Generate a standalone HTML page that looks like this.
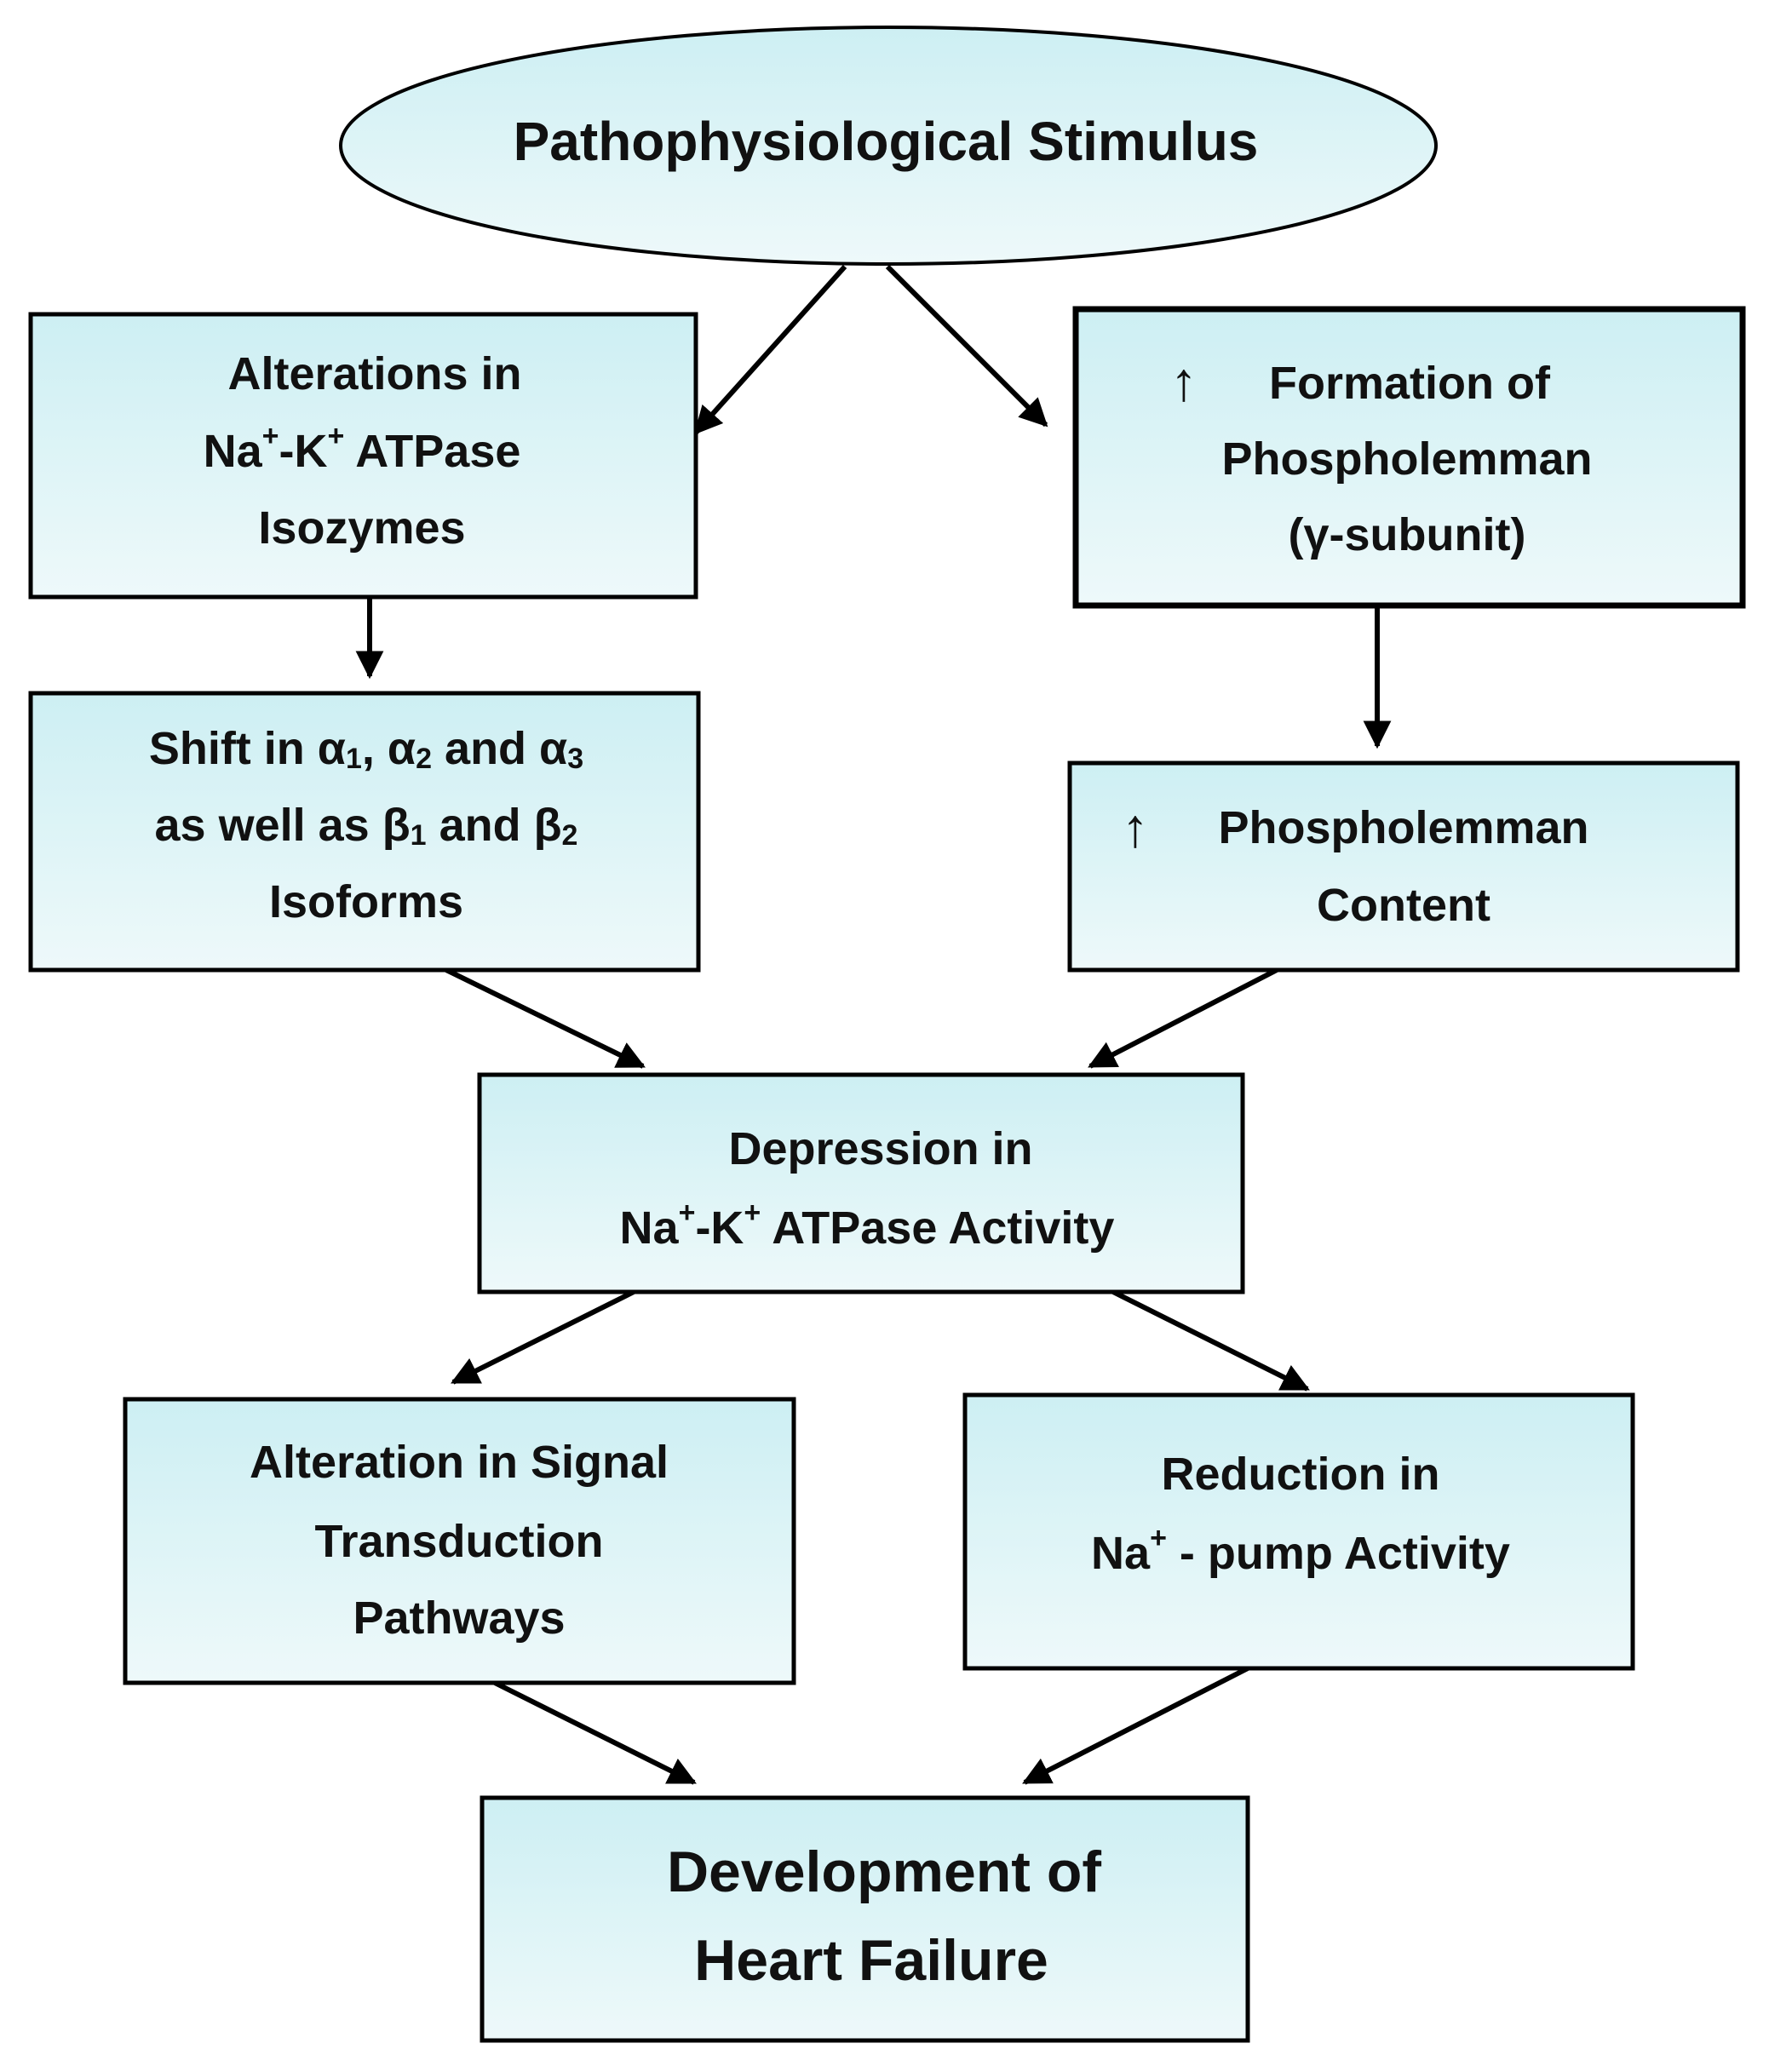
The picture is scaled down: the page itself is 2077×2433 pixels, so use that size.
<!DOCTYPE html>
<html><head><meta charset="utf-8"><style>
html,body{margin:0;padding:0;background:#fff}
svg{display:block}
text{font-family:"Liberation Sans",sans-serif;font-weight:bold;fill:#111;text-anchor:middle;dominant-baseline:central}
</style></head><body>
<svg width="2077" height="2433" viewBox="0 0 2077 2433" xmlns="http://www.w3.org/2000/svg">
<defs>
<linearGradient id="g" x1="0" y1="0" x2="0" y2="1"><stop offset="0" stop-color="#cdeff3"/><stop offset="1" stop-color="#eef9fa"/></linearGradient>
<marker id="a" viewBox="0 0 10 10" refX="9" refY="5" markerWidth="5.5" markerHeight="5.5" orient="auto" markerUnits="strokeWidth"><path d="M0,0L10,5L0,10z" fill="#000"/></marker>
</defs>
<g stroke="#000" stroke-width="6" fill="none" marker-end="url(#a)">
<line x1="992" y1="313" x2="817" y2="508"/>
<line x1="1042" y1="313" x2="1228" y2="499"/>
<line x1="434" y1="701" x2="434" y2="794"/>
<line x1="1617" y1="711" x2="1617" y2="876"/>
<line x1="524" y1="1139" x2="755" y2="1252"/>
<line x1="1499" y1="1139" x2="1280" y2="1252"/>
<line x1="744" y1="1517" x2="532" y2="1623"/>
<line x1="1307" y1="1517" x2="1535" y2="1631"/>
<line x1="581" y1="1976" x2="815" y2="2093"/>
<line x1="1465" y1="1959" x2="1203" y2="2093"/>
</g>
<g stroke="#000" stroke-width="5" fill="url(#g)">
<ellipse cx="1043" cy="171" rx="643" ry="139" stroke-width="4"/>
<rect x="36" y="369" width="781" height="332"/>
<rect x="1263" y="363" width="783" height="348" stroke-width="7"/>
<rect x="36" y="814" width="784" height="325"/>
<rect x="1256" y="896" width="784" height="243"/>
<rect x="563" y="1262" width="896" height="255"/>
<rect x="147" y="1643" width="785" height="333"/>
<rect x="1133" y="1638" width="784" height="321"/>
<rect x="566" y="2111" width="899" height="285"/>
</g>
<text x="1040" y="166" font-size="64">Pathophysiological Stimulus</text>
<g font-size="54">
<text x="440" y="439">Alterations in</text>
<text x="425" y="530">Na<tspan font-size="34" dy="-18">+</tspan><tspan dy="18">-K</tspan><tspan font-size="34" dy="-18">+</tspan><tspan dy="18"> ATPase</tspan></text>
<text x="425" y="620">Isozymes</text>
<text x="1390" y="448" font-size="64">↑</text>
<text x="1655" y="450">Formation of</text>
<text x="1652" y="539">Phospholemman</text>
<text x="1652" y="628">(γ-subunit)</text>
<text x="430" y="879">Shift in α<tspan font-size="34" dy="12">1</tspan><tspan dy="-12">, α</tspan><tspan font-size="34" dy="12">2</tspan><tspan dy="-12"> and α</tspan><tspan font-size="34" dy="12">3</tspan></text>
<text x="430" y="969">as well as β<tspan font-size="34" dy="12">1</tspan><tspan dy="-12"> and β</tspan><tspan font-size="34" dy="12">2</tspan></text>
<text x="430" y="1059">Isoforms</text>
<text x="1333" y="972" font-size="64">↑</text>
<text x="1648" y="972">Phospholemman</text>
<text x="1648" y="1063">Content</text>
<text x="1034" y="1349">Depression in</text>
<text x="1018" y="1442">Na<tspan font-size="34" dy="-18">+</tspan><tspan dy="18">-K</tspan><tspan font-size="34" dy="-18">+</tspan><tspan dy="18"> ATPase Activity</tspan></text>
<text x="539" y="1717">Alteration in Signal</text>
<text x="539" y="1810">Transduction</text>
<text x="539" y="1900">Pathways</text>
<text x="1527" y="1731">Reduction in</text>
<text x="1527" y="1824">Na<tspan font-size="34" dy="-18">+</tspan><tspan dy="18"> - pump Activity</tspan></text>
</g>
<text x="1038" y="2198" font-size="68">Development of</text>
<text x="1023" y="2302" font-size="68">Heart Failure</text>
</svg>
</body></html>
